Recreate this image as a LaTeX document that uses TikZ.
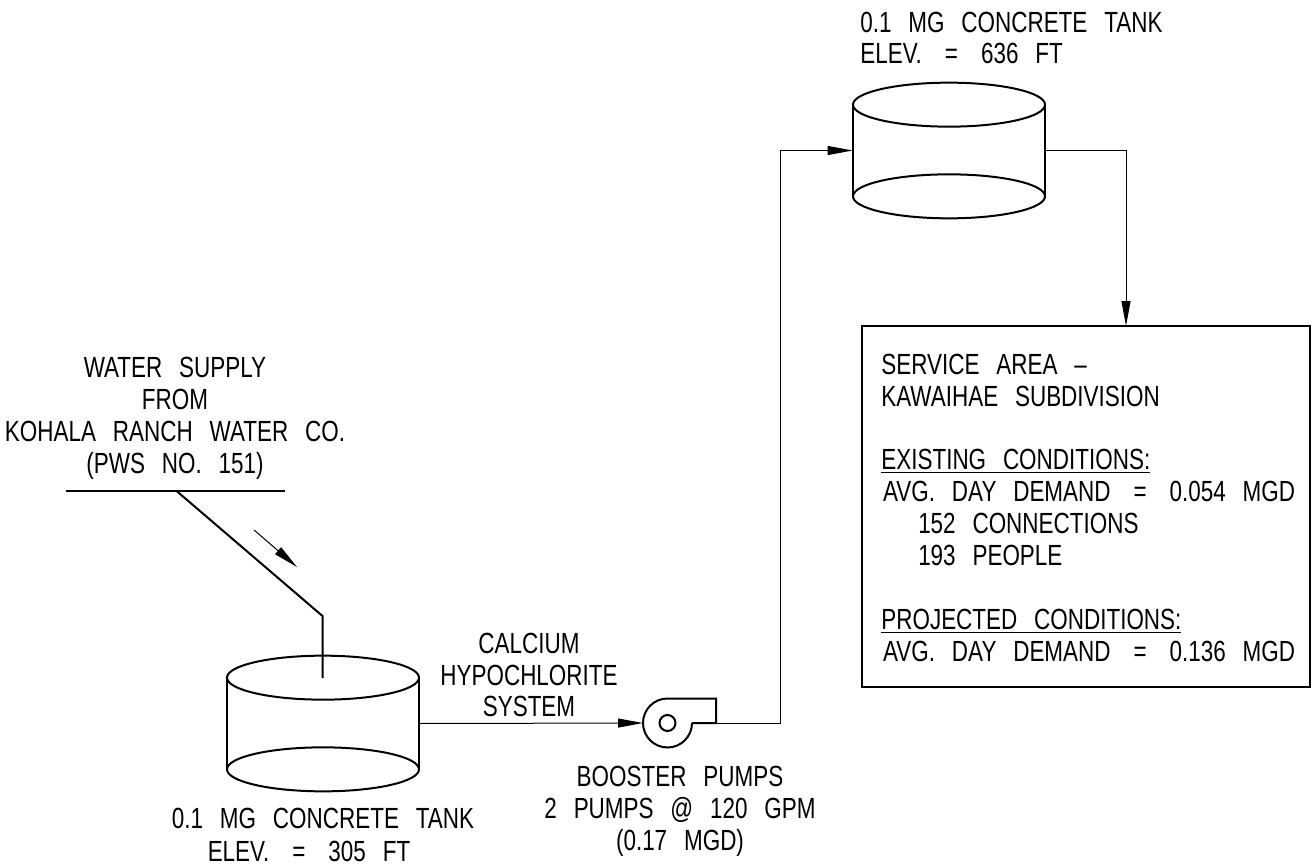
\documentclass[tikz,border=0pt]{standalone}
\usepackage{fontspec}
\setmainfont[FakeStretch=0.77,WordSpace=2.7]{Liberation Sans}
\usetikzlibrary{arrows.meta}
\newcommand{\eqsign}{\ \hspace{3.5pt}=\hspace{3.5pt}\ }
\tikzset{
  thickline/.style={line width=0.04cm},
  pipeline/.style={line width=0.02cm},
  solidtip/.style={-{Triangle[length=0.5cm,width=0.18cm]}},
  tankbody/.style={minimum width=3.84cm,minimum height=1.82cm,inner sep=0pt},
  caption/.style={font=\fontsize{16.6pt}{18.15pt}\selectfont,align=center,inner sep=0pt},
  boxtext/.style={font=\fontsize{16.6pt}{18.15pt}\selectfont,align=left,inner sep=0pt,anchor=north west},
}

\begin{document}
\begin{tikzpicture}[x=0.02cm,y=0.02cm]
      \useasboundingbox (0,0) rectangle (1312,867);

      % lower tank
      \node [tankbody] (lowertank) at (323,143.5) {};
      \draw [thickline] (lowertank.north) ellipse [x radius=96,y radius=22];
      \draw [thickline] (lowertank.south) ellipse [x radius=96,y radius=22];
      \draw [thickline] (lowertank.north west) -- (lowertank.south west);
      \draw [thickline] (lowertank.north east) -- (lowertank.south east);

      % upper tank
      \node [tankbody] (uppertank) at (949,716.5) {};
      \draw [thickline] (uppertank.north) ellipse [x radius=96,y radius=22];
      \draw [thickline] (uppertank.south) ellipse [x radius=96,y radius=22];
      \draw [thickline] (uppertank.north west) -- (uppertank.south west);
      \draw [thickline] (uppertank.north east) -- (uppertank.south east);

      % pump
      \node [circle,minimum size=0.32cm,inner sep=0pt,draw,thickline] (pump) at (667.5,144) {};
      \coordinate (pumpin) at (643,144);
      \coordinate (pumpout) at (716,144);
      \draw [thickline] (692,144) arc (0:-270:24.5) -- (716,168.5) -- (pumpout) -- (692,144);

      % service area
      \node [draw,thickline,minimum width=8.96cm,minimum height=7.22cm,inner sep=0pt] (servicebox) at (1086,360.5) {};

      % supply
      \coordinate (supplyleft) at (66,376.5);
      \coordinate (supplyright) at (285,376.5);
      \coordinate (supplytap) at (176,376.5);
      \coordinate (supplybend) at (322.5,251);
      \coordinate (supplyend) at (322.5,189);
      \coordinate (flowstart) at (254,337);
      \coordinate (flowend) at (297,300);
      \draw [thickline] (supplyleft) -- (supplyright);
      \draw [thickline] (supplytap) -- (supplybend) -- (supplyend);
      \draw [pipeline,solidtip] (flowstart) -- (flowend);

      % pipes
      \coordinate (risertop) at (780,716.5);
      \coordinate (boxentry) at (1126,541);
      \draw [pipeline,solidtip] (lowertank.east) -- (pumpin);
      \draw [pipeline,solidtip] (pumpout) -| (risertop) -- (uppertank.west);
      \draw [pipeline,solidtip] (uppertank.east) -| (boxentry);

      % labels
      \node [caption] (supplylabel) at (175,449) {WATER SUPPLY\\FROM\\KOHALA RANCH WATER CO.\\(PWS NO. 151)};
      \node [caption] (lowerlabel) at (323,49) {0.1 MG CONCRETE TANK};
      \node [caption] (elevlabel) at (309,16) {ELEV.\eqsign 305 FT};
      \node [caption] (chemlabel) at (529,192) {CALCIUM\\HYPOCHLORITE\\SYSTEM};
      \node [caption] (pumplabel) at (680,55.5) {BOOSTER PUMPS\\2 PUMPS @ 120 GPM\\(0.17 MGD)};
      \node [boxtext,anchor=west] (upperlabel) at (860,829) {0.1 MG CONCRETE TANK\\ELEV.\eqsign 636 FT};
      \node [boxtext] (servicelabel) at (881,513.5) {SERVICE AREA –\\KAWAIHAE SUBDIVISION\\[18.15pt]\underline{EXISTING CONDITIONS:}\\\hspace*{1pt}AVG. DAY DEMAND\eqsign 0.054 MGD\\\hspace*{21pt}152 CONNECTIONS\\\hspace*{21pt}193 PEOPLE\\[18.15pt]\underline{PROJECTED CONDITIONS:}\\\hspace*{1pt}AVG. DAY DEMAND\eqsign 0.136 MGD};

\end{tikzpicture}
\end{document}
